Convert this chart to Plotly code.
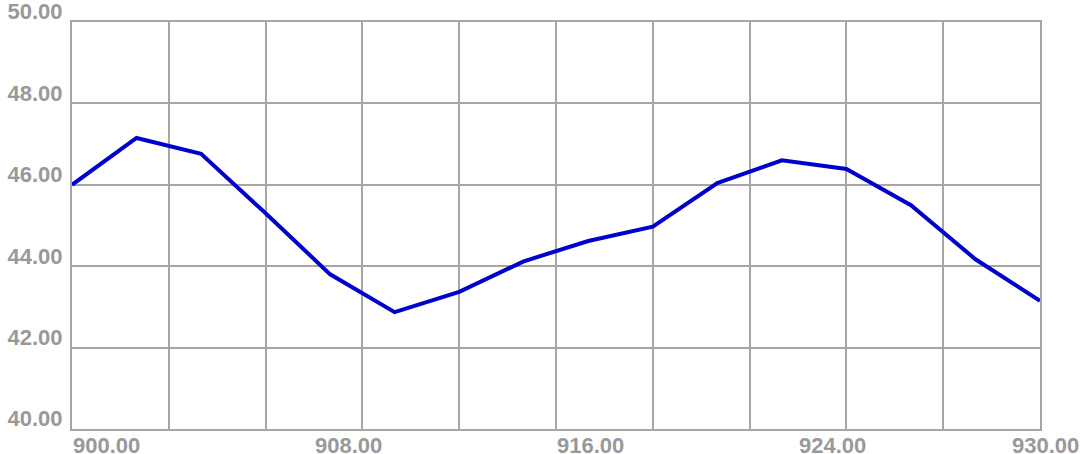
import numpy as np
import plotly.graph_objects as go

# Data
x_values = [900, 902, 904, 906, 908, 910, 912, 914, 916, 918, 920, 922, 924, 926, 928, 930]
y_values = [46.0, 47.15, 46.76, 45.3, 43.8, 42.87, 43.37, 44.12, 44.62, 44.97,
            46.04, 46.6, 46.39, 45.5, 44.17, 43.15]
x_tick_labels = ["900.00", "908.00", "916.00", "924.00", "930.00"]
y_tick_values = [40, 42, 44, 46, 48, 50]
y_tick_labels = ["40.00", "42.00", "44.00", "46.00", "48.00", "50.00"]

x_min, x_max = 900, 930
y_min, y_max = 40, 50

grid_color = "#a6a6a6"
label_color = "#999999"
label_font = dict(family="Liberation Sans, Arial, sans-serif", size=22, color=label_color)

# label positions: five evenly spaced slots, last kept inside the canvas
x_tick_pos = list(np.linspace(x_min, x_max, len(x_tick_labels)))
x_tick_pos[-1] = x_max - 0.9

fig = go.Figure()
fig.add_trace(go.Scatter(
    x=x_values, y=y_values, mode="lines",
    line=dict(color="#0000CC", width=4),
    hoverinfo="skip", showlegend=False,
))

fig.update_layout(
    width=1086, height=454,
    margin=dict(l=72, r=46, t=22, b=25, autoexpand=False),
    paper_bgcolor="white", plot_bgcolor="white",
    showlegend=False,
    xaxis=dict(
        range=[x_min, x_max],
        tickmode="array", tickvals=x_tick_pos, ticktext=x_tick_labels,
        ticklabelposition="outside right", ticklabeloverflow="allow",
        tickfont=dict(**label_font, weight="bold"),
        ticks="", ticklen=0, ticklabelstandoff=-4,
        showgrid=False, zeroline=False,
        showline=True, linecolor=grid_color, linewidth=2, mirror=True,
        minor=dict(tickmode="linear", tick0=x_min, dtick=3, showgrid=True,
                   gridcolor=grid_color, gridwidth=1.6, ticks=""),
        automargin=False, fixedrange=True,
    ),
    yaxis=dict(
        range=[y_min, y_max],
        tickmode="array", tickvals=y_tick_values, ticktext=y_tick_labels,
        ticklabelposition="outside top", ticklabeloverflow="allow",
        tickfont=dict(**label_font, weight="bold"),
        ticks="", ticklen=0, ticklabelstandoff=3, ticklabelshift=5,
        showgrid=True, gridcolor=grid_color, gridwidth=1.6,
        zeroline=False,
        showline=True, linecolor=grid_color, linewidth=2, mirror=True,
        automargin=False, fixedrange=True,
    ),
)

fig.write_html(
    "out.html",
    config={"displayModeBar": False},
    post_script="document.body.style.margin='0';document.body.style.padding='0';",
)
